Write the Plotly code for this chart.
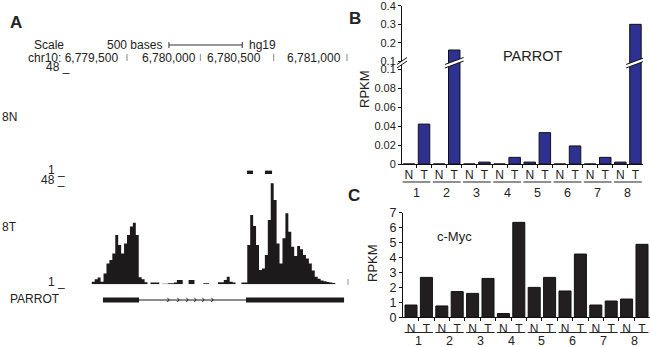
import plotly.graph_objects as go

W, H = 650, 347
FONT = "Liberation Sans, Arial, sans-serif"

# ------------------------- DATA -------------------------
# Panel A : UCSC-like browser view
ruler_ticks = [6779500, 6780000, 6780500, 6781000]
ruler_text = ["chr10: 6,779,500", "6,780,000", "6,780,500", "6,781,000"]
scale_start = 6779786
scale_len = 500
track_names = ["8N", "8T"]
track_max = 48
track_min = 1

bin_start = 6779260
bin_size = 20
cov_8T = [1.2, 2.3, 3.1, 1.2, 5.0, 9.6, 11.2, 14.2, 22.7, 18.0,
          14.2, 18.8, 22.7, 26.5, 28.3, 22.7, 3.2, 2.3, 0.9, 0.0,
          0.8, 0.8, 0.8, 0.0, 0.3, 0.3, 0.5, 0.5, 0.8, 2.0,
          2.0, 0.0, 0.0, 2.0, 2.0, 0.0, 0.0, 0.0, 0.5, 0.5,
          0.0, 0.0, 0.0, 0.9, 0.9, 2.0, 3.5, 1.2, 0.8, 0.0,
          0.0, 0.8, 0.8, 18.0, 31.8, 26.8, 18.0, 6.6, 7.3, 13.5,
          29.5, 46.4, 38.7, 18.8, 9.6, 21.1, 32.6, 24.2, 17.3, 13.0,
          17.6, 16.1, 13.5, 11.9, 9.6, 6.3, 3.5, 2.5, 1.8, 1.4,
          1.1, 0.8, 0.6]
cov_8N_start = [6780318, 6780441]
cov_8N_end = [6780359, 6780489]
cov_8N_val = [1.5, 1.5]

gene_name = "PARROT"
exon_start = [6779336, 6780311]
exon_end = [6779582, 6780980]
strand_marks = [6779780, 6779848, 6779909, 6779964, 6780018, 6780080]

# Panels B and C
samples = ["1", "2", "3", "4", "5", "6", "7", "8"]
conditions = ["N", "T"]
parrot_rpkm = [0.0, 0.042, 0.0, 0.16, 0.0, 0.002, 0.0, 0.007,
               0.002, 0.033, 0.0, 0.019, 0.0, 0.007, 0.002, 0.30]
cmyc_rpkm = [0.82, 2.67, 0.76, 1.72, 1.60, 2.60, 0.25, 6.35,
             2.00, 2.67, 1.76, 4.23, 0.82, 1.09, 1.22, 4.88]
parrot_lower_ticks = [0, 0.02, 0.04, 0.06, 0.08, 0.1]
parrot_upper_ticks = [0.1, 0.2, 0.3, 0.4]
cmyc_ticks = [0, 1, 2, 3, 4, 5, 6, 7]

# ------------------------- LAYOUT HELPERS -------------------------
def PX(p):
    return p / W

def PY(p):
    return 1 - p / H

# genomic calibration of panel A (px of 6,779,500 and px per base)
G0, P0, PPB = 6779500, 127.0, 0.14667

def gx(p):
    return G0 + (p - P0) / PPB

tick_labels = [c for _ in samples for c in conditions]
xpos = list(range(len(tick_labels)))

fig = go.Figure()

# ---- Panel A traces ----
xs, ys = [], []
for i, v in enumerate(cov_8T):
    xs.append(bin_start + i * bin_size)
    ys.append(v)
xs.append(bin_start + len(cov_8T) * bin_size)
ys.append(cov_8T[-1])
fig.add_trace(go.Scatter(x=xs, y=ys, mode="lines", line=dict(shape="hv", width=0, color="#1c1a1b"),
                         fill="tozeroy", fillcolor="#1c1a1b", xaxis="x", yaxis="y2", hoverinfo="skip"))

fig.add_trace(go.Bar(x=[(a + b) / 2 for a, b in zip(cov_8N_start, cov_8N_end)],
                     width=[b - a for a, b in zip(cov_8N_start, cov_8N_end)],
                     y=cov_8N_val, marker=dict(color="#1c1a1b", line=dict(width=0)),
                     xaxis="x", yaxis="y", hoverinfo="skip"))

# gene model
fig.add_trace(go.Scatter(x=[exon_end[0], exon_start[1]], y=[0, 0], mode="lines",
                         line=dict(color="#1c1a1b", width=1), xaxis="x", yaxis="y3", hoverinfo="skip"))
for a, b in zip(exon_start, exon_end):
    fig.add_trace(go.Scatter(x=[a, b], y=[0, 0], mode="lines",
                             line=dict(color="#1c1a1b", width=5), xaxis="x", yaxis="y3", hoverinfo="skip"))
fig.add_trace(go.Scatter(x=strand_marks, y=[0] * len(strand_marks), mode="text", text=["›"] * len(strand_marks),
                         textfont=dict(size=11, color="#1c1a1b", family=FONT), xaxis="x", yaxis="y3",
                         hoverinfo="skip"))

# ---- Panel B traces ----
BLUE = "#2e3192"
for ya in ["y4", "y5"]:
    fig.add_trace(go.Bar(x=xpos, y=parrot_rpkm, width=0.76,
                         marker=dict(color=BLUE, line=dict(color="#111", width=1)),
                         xaxis="x2", yaxis=ya, hoverinfo="skip"))

# ---- Panel C traces ----
fig.add_trace(go.Bar(x=xpos, y=cmyc_rpkm, width=0.78,
                     marker=dict(color="#231f20", line=dict(color="#111", width=1)),
                     xaxis="x3", yaxis="y6", hoverinfo="skip"))

# ------------------------- AXES -------------------------
hidden = dict(visible=False, fixedrange=True, automargin=False)
axfont = dict(family=FONT, size=11, color="#222")

layout = dict(
    template="none",
    width=W, height=H, margin=dict(l=0, r=0, t=0, b=0, pad=0, autoexpand=False),
    paper_bgcolor="white", plot_bgcolor="white", showlegend=False,
    barmode="overlay", font=dict(family=FONT, size=12, color="#222"),
    xaxis=dict(domain=[0, PX(350)], range=[gx(0), gx(350)], anchor="y2", **hidden),
    yaxis=dict(domain=[PY(174), PY(68)], range=[0, track_max - track_min], anchor="x", **hidden),
    yaxis2=dict(domain=[PY(284.3), PY(182)], range=[0, track_max - track_min], anchor="x", **hidden),
    yaxis3=dict(domain=[PY(306), PY(294)], range=[-1, 1], anchor="x", **hidden),
    # Panel B
    xaxis2=dict(domain=[PX(402), PX(643)], range=[-0.46, 15.5], anchor="y4", automargin=False,
                tickmode="array", tickvals=xpos, ticktext=tick_labels, ticks="",
                showline=True, linecolor="#111", linewidth=1, showgrid=False, zeroline=False,
                tickfont=dict(family=FONT, size=12, color="#222"),
                minor=dict(tickvals=[i + 0.5 for i in xpos[:-1]], ticks="outside", ticklen=3,
                           tickcolor="#111", showgrid=False)),
    yaxis4=dict(domain=[PY(164), PY(61)], range=[0, 0.1 * 103 / 95], anchor="x2", automargin=False,
                tickmode="array", tickvals=parrot_lower_ticks, ticks="outside", ticklen=3,
                tickcolor="#111", showline=True, linecolor="#111", showgrid=False, zeroline=False,
                tickfont=axfont, ticklabeloverflow="allow"),
    yaxis5=dict(domain=[PY(61), PY(5.8)], range=[0.1, 0.401], anchor="x2", automargin=False,
                tickmode="array", tickvals=parrot_upper_ticks, ticks="outside", ticklen=3,
                tickcolor="#111", showline=True, linecolor="#111", showgrid=False, zeroline=False,
                tickfont=axfont, ticklabeloverflow="allow"),
    # Panel C
    xaxis3=dict(domain=[PX(403), PX(650)], range=[-0.52, 15.52], anchor="y6", automargin=False,
                tickmode="array", tickvals=xpos, ticktext=tick_labels, ticks="",
                showline=True, linecolor="#111", linewidth=1, showgrid=False, zeroline=False,
                tickfont=dict(family=FONT, size=12, color="#222"), ticklabeloverflow="allow",
                minor=dict(tickvals=[i + 0.5 for i in xpos[:-1]], ticks="outside", ticklen=3,
                           tickcolor="#111", showgrid=False)),
    yaxis6=dict(domain=[PY(317.3), PY(212.5)], range=[0, 7.01], anchor="x3", automargin=False,
                tickmode="array", tickvals=cmyc_ticks, ticks="outside", ticklen=3,
                tickcolor="#111", showline=True, linecolor="#111", showgrid=False, zeroline=False,
                tickfont=dict(family=FONT, size=12.5, color="#222"), ticklabeloverflow="allow"),
)
fig.update_layout(**layout)

ann = []
shapes = []

def text(x, y, t, size=12, xanchor="center", xref="paper", bold=False, angle=0, xshift=0):
    ann.append(dict(x=x, y=y, xref=xref, yref="paper", text=("<b>%s</b>" % t) if bold else t,
                    showarrow=False, xanchor=xanchor, yanchor="middle", textangle=angle, xshift=xshift,
                    font=dict(family=FONT, size=size, color="#222")))

# panel letters
text(PX(15.5), PY(22.5), "A", size=17, bold=True)
text(PX(355), PY(18), "B", size=17, bold=True)
text(PX(354), PY(195), "C", size=17, bold=True)

# ---- Panel A annotations ----
text(PX(66), PY(45), "Scale", xanchor="right")
text(scale_start, PY(44.5), "500 bases", xanchor="right", xref="x", xshift=-5)
text(scale_start + scale_len, PY(44.5), "hg19", xanchor="left", xref="x", xshift=5)
shapes.append(dict(type="line", xref="x", yref="paper", x0=scale_start, x1=scale_start + scale_len,
                   y0=PY(45), y1=PY(45), line=dict(color="#333", width=1)))
for xx in [scale_start, scale_start + scale_len]:
    shapes.append(dict(type="line", xref="x", yref="paper", x0=xx, x1=xx,
                       y0=PY(42), y1=PY(48), line=dict(color="#333", width=1)))
label_shift = [-7, -2, -11, -4]
for g, t, s in zip(ruler_ticks, ruler_text, label_shift):
    text(g, PY(57.5), t, xanchor="right", xref="x", xshift=s)
    shapes.append(dict(type="line", xref="x", yref="paper", x0=g, x1=g,
                       y0=PY(54), y1=PY(61), line=dict(color="#888", width=1)))

text(PX(72), PY(67), "%d _" % track_max, xanchor="right", size=12)
text(PX(0), PY(117), track_names[0], xanchor="left")
text(PX(67), PY(169.5), "%d _" % track_min, xanchor="right", size=12)
text(PX(67), PY(179.5), "%d _" % track_max, xanchor="right", size=12)
text(PX(0), PY(227), track_names[1], xanchor="left")
text(PX(67), PY(281.5), "%d _" % track_min, xanchor="right", size=12)
text(PX(8), PY(299), gene_name, xanchor="left")
shapes.append(dict(type="line", xref="paper", yref="paper", x0=PX(348), x1=PX(348),
                   y0=PY(279), y1=PY(285), line=dict(color="#999", width=1)))

# ---- Panel B annotations ----
text(PX(532), PY(56), "PARROT", size=14.5)
text(PX(364), PY(89), "RPKM", size=13, angle=-90)
for i, s in enumerate(samples):
    text(2 * i + 0.5, PY(193), s, xref="x2", size=12.5)
    shapes.append(dict(type="line", xref="x2", yref="paper", x0=2 * i - 0.42, x1=2 * i + 1.42,
                       y0=PY(182), y1=PY(182), line=dict(color="#222", width=1)))

# axis-break marks
def break_mark(xref, xc, half, y_lo, y_hi):
    th = 3.5
    p = ("M %f,%f L %f,%f L %f,%f L %f,%f Z" %
         (xc - half, PY(y_lo), xc + half, PY(y_hi), xc + half, PY(y_hi - th), xc - half, PY(y_lo - th)))
    shapes.append(dict(type="path", xref=xref, yref="paper", path=p, fillcolor="white",
                       line=dict(width=0), layer="above"))
    for off in [0, th]:
        shapes.append(dict(type="line", xref=xref, yref="paper", x0=xc - half, x1=xc + half,
                           y0=PY(y_lo - off), y1=PY(y_hi - off), line=dict(color="#111", width=1),
                           layer="above"))

for idx, v in enumerate(parrot_rpkm):
    if v > 0.1:
        break_mark("x2", idx, 0.62, 68, 61)
break_mark("paper", PX(402), PX(5), 68, 61)

# ---- Panel C annotations ----
text(PX(455), PY(236), "c-Myc", size=13)
text(PX(372), PY(263), "RPKM", size=13, angle=-90)
for i, s in enumerate(samples):
    text(2 * i + 0.5, PY(341), s, xref="x3", size=12.5)
    shapes.append(dict(type="line", xref="x3", yref="paper", x0=2 * i - 0.42, x1=2 * i + 1.42,
                       y0=PY(332.5), y1=PY(332.5), line=dict(color="#222", width=1)))

fig.update_layout(annotations=ann, shapes=shapes)
fig.write_html("out.html", config={"displayModeBar": False, "staticPlot": True},
               post_script="document.body.style.margin='0';document.body.style.overflow='hidden';")
